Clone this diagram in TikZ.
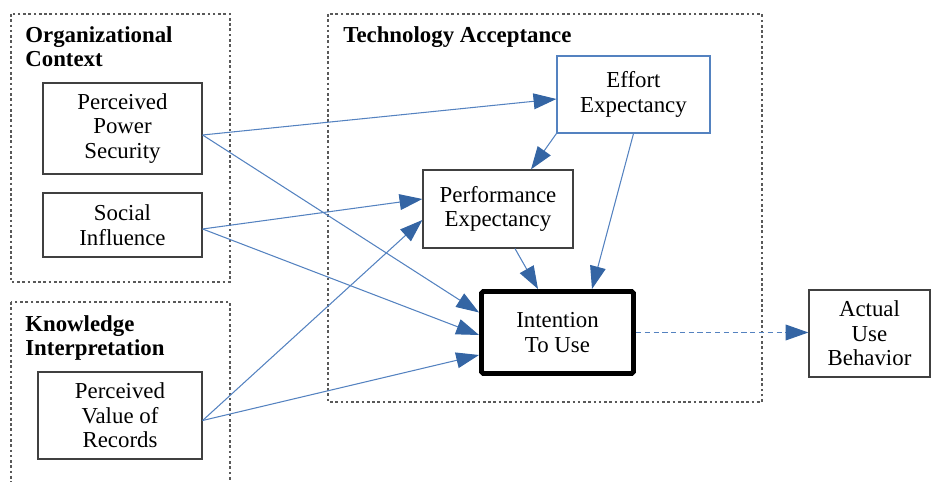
\documentclass[tikz,border=0pt]{standalone}
\usepackage{fontspec}
\setmainfont{Liberation Serif}
\usetikzlibrary{arrows.meta}
\definecolor{tipblue}{RGB}{52,101,164}
\definecolor{lineblue}{RGB}{84,130,192}

\begin{document}
\begin{tikzpicture}[x=0.02cm, y=-0.02cm,
		every node/.style={font=\fontsize{13}{14}\selectfont},
		group/.style={draw=black!65, dash pattern=on 1.5pt off 1.5pt, line width=0.6pt},
		title/.style={anchor=north west, inner sep=0pt, align=left, font=\fontsize{13}{14}\selectfont\bfseries},
		factor/.style={draw=black!75, line width=0.7pt, align=center, inner sep=0pt},
		link/.style={draw=lineblue, line width=0.6pt, -{Triangle[length=13pt, width=9pt, color=tipblue]}}]
			\useasboundingbox (0,0) rectangle (931,482);

			% groups
			\draw[group] (11,14) rectangle (230,282);
				\node[title] (orgtitle) at (25,26) {Organizational\\Context};
			\draw[group] (11,302) rectangle (230,500);
				\node[title] (knowtitle) at (25,315) {Knowledge\\Interpretation};
			\draw[group] (328,14) rectangle (762,402);
				\node[title] (techtitle) at (343,26) {Technology Acceptance};

			% factors
			\node[factor, minimum width=3.18cm, minimum height=1.82cm] (pps) at (122.5,128.5) {Perceived\\Power\\Security};
			\node[factor, minimum width=3.18cm, minimum height=1.28cm] (si) at (122.5,225) {Social\\Influence};
			\node[factor, minimum width=3.28cm, minimum height=1.74cm] (pvr) at (120,415.5) {Perceived\\Value of\\Records};
			\node[factor, draw=lineblue, minimum width=3.06cm, minimum height=1.54cm] (ee) at (633.5,94.5) {Effort\\Expectancy};
			\node[factor, minimum width=3cm, minimum height=1.56cm] (pe) at (498,209) {Performance\\Expectancy};
			\node[factor, draw=black, line width=2.8pt, rounded corners=1pt, minimum width=3.04cm, minimum height=1.64cm] (itu) at (557.5,332.5) {Intention\\To Use};
			\node[factor, minimum width=2.42cm, minimum height=1.74cm] (aub) at (869.5,333.5) {Actual\\Use\\Behavior};

			% links
			\draw[link] ([yshift=-0.13cm]pps.east) -- ([yshift=-0.09cm]ee.west);
			\draw[link] ([yshift=-0.13cm]pps.east) -- ([yshift=0.4cm]itu.west);
			\draw[link] ([yshift=-0.08cm]si.east) -- ([yshift=0.2cm]pe.west);
			\draw[link] ([yshift=-0.08cm]si.east) -- ([yshift=-0.05cm]itu.west);
			\draw[link] ([yshift=-0.1cm]pvr.east) -- ([yshift=-0.22cm]pe.west);
			\draw[link] ([yshift=-0.1cm]pvr.east) -- ([yshift=-0.45cm]itu.west);
			\draw[link] (ee.south west) -- ([xshift=0.66cm]pe.north);
			\draw[link] (ee.south) -- ([xshift=0.69cm]itu.north);
			\draw[link] ([xshift=0.34cm]pe.south) -- ([xshift=-0.39cm]itu.north);
			\draw[link, dash pattern=on 3pt off 2pt] (itu.east) -- (itu.east -| aub.west);
		\end{tikzpicture}
\end{document}
